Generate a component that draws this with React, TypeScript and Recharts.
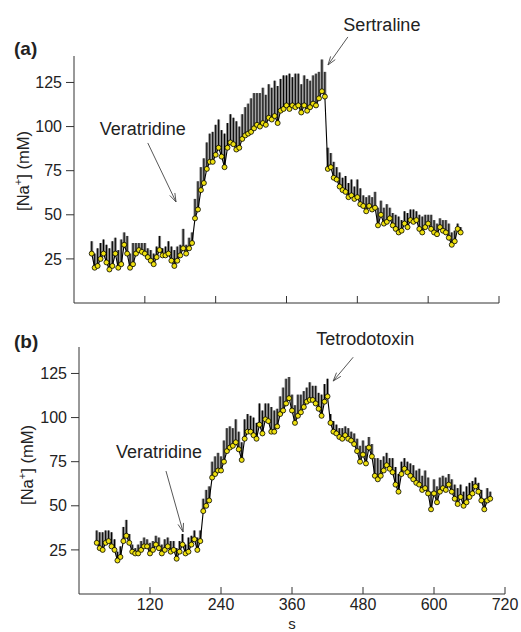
import React from 'react';
import { ComposedChart, Line, XAxis, YAxis, ErrorBar, ReferenceLine } from 'recharts';

const FONT = '"Liberation Sans", Arial, Helvetica, sans-serif';

// ---------- Panel (a) ----------
const timesA = [
  30, 35, 40, 45, 50, 55, 60, 65, 70, 75,
  80, 85, 90, 95, 100, 105, 110, 115, 120, 125,
  130, 135, 140, 145, 150, 155, 160, 165, 170, 175,
  180, 185, 190, 195, 200, 205, 210, 215, 220, 225,
  230, 235, 240, 245, 250, 255, 260, 265, 270, 275,
  280, 285, 290, 295, 300, 305, 310, 315, 320, 325,
  330, 335, 340, 345, 350, 355, 360, 365, 370, 375,
  380, 385, 390, 395, 400, 405, 410, 415, 420, 425,
  430, 435, 440, 445, 450, 455, 460, 465, 470, 475,
  480, 485, 490, 495, 500, 505, 510, 515, 520, 525,
  530, 535, 540, 545, 550, 555, 560, 565, 570, 575,
  580, 585, 590, 595, 600, 605, 610, 615, 620, 625,
  630, 635, 640, 645, 650, 655,
];
const meanA = [
  28, 20, 21, 25, 28, 23, 19, 21, 28, 20,
  22, 33, 28, 20, 22, 28, 30, 29, 28, 26,
  24, 22, 26, 30, 27, 27, 28, 24, 21, 24,
  27, 31, 28, 31, 34, 48, 53, 64, 68, 76,
  80, 80, 84, 88, 83, 77, 88, 91, 90, 87,
  88, 93, 95, 96, 97, 99, 101, 100, 102, 101,
  105, 104, 106, 102, 109, 110, 112, 110, 112, 111,
  112, 108, 112, 109, 111, 113, 112, 116, 120, 117,
  76, 77, 71, 70, 66, 64, 63, 60, 61, 59,
  60, 56, 55, 52, 55, 53, 54, 44, 50, 45,
  46, 48, 44, 42, 40, 41, 45, 43, 47, 46,
  47, 42, 40, 43, 45, 42, 40, 39, 43, 41,
  40, 37, 33, 35, 42, 40,
];
const errA = [
  7, 8, 10, 9, 8, 10, 12, 14, 9, 10,
  14, 7, 10, 8, 12, 6, 4, 5, 6, 5,
  6, 6, 6, 8, 4, 5, 7, 8, 9, 8,
  6, 11, 5, 6, 6, 11, 16, 13, 14, 15,
  16, 17, 17, 16, 15, 19, 14, 16, 15, 16,
  12, 14, 16, 17, 19, 20, 18, 19, 20, 17,
  19, 18, 20, 21, 18, 19, 17, 20, 16, 19,
  18, 16, 17, 18, 15, 16, 18, 15, 18, 14,
  12, 8, 9, 7, 8, 7, 9, 8, 9, 7,
  10, 9, 6, 8, 6, 7, 9, 10, 8, 9,
  10, 6, 7, 8, 9, 6, 7, 8, 6, 7,
  5, 8, 9, 7, 5, 8, 7, 6, 5, 6,
  7, 8, 7, 6, 3, 3,
];

// ---------- Panel (b) ----------
const timesB = [
  30, 35, 40, 45, 50, 55, 60, 65, 70, 75,
  80, 85, 90, 95, 100, 105, 110, 115, 120, 125,
  130, 135, 140, 145, 150, 155, 160, 165, 170, 175,
  180, 185, 190, 195, 200, 205, 210, 215, 220, 225,
  230, 235, 240, 245, 250, 255, 260, 265, 270, 275,
  280, 285, 290, 295, 300, 305, 310, 315, 320, 325,
  330, 335, 340, 345, 350, 355, 360, 365, 370, 375,
  380, 385, 390, 395, 400, 405, 410, 415, 420, 425,
  430, 435, 440, 445, 450, 455, 460, 465, 470, 475,
  480, 485, 490, 495, 500, 505, 510, 515, 520, 525,
  530, 535, 540, 545, 550, 555, 560, 565, 570, 575,
  580, 585, 590, 595, 600, 605, 610, 615, 620, 625,
  630, 635, 640, 645, 650, 655, 660, 665, 670, 675,
  680, 685, 690, 695,
];
const meanB = [
  29, 26, 25, 29, 30, 27, 25, 19, 21, 30,
  33, 29, 24, 23, 23, 25, 27, 27, 23, 25,
  28, 26, 23, 25, 27, 24, 25, 20, 24, 28,
  23, 24, 28, 31, 25, 30, 47, 50, 53, 66,
  68, 70, 70, 75, 81, 83, 84, 86, 82, 76,
  88, 92, 92, 90, 88, 96, 91, 99, 98, 92,
  92, 95, 102, 104, 108, 111, 104, 97, 101, 103,
  106, 109, 110, 110, 108, 105, 101, 109, 112, 97,
  92, 91, 89, 88, 90, 88, 87, 85, 81, 75,
  79, 74, 83, 78, 67, 65, 67, 70, 73, 71,
  69, 62, 58, 68, 71, 69, 67, 65, 63, 62,
  59, 60, 57, 48, 57, 52, 58, 60, 59, 62,
  58, 54, 51, 55, 50, 52, 55, 57, 61, 58,
  53, 48, 53, 54,
];
const errB = [
  7, 9, 10, 7, 6, 8, 6, 5, 6, 8,
  9, 5, 4, 3, 5, 5, 5, 4, 6, 5,
  5, 6, 5, 6, 5, 6, 5, 6, 6, 6,
  5, 8, 5, 5, 7, 6, 7, 9, 8, 9,
  10, 10, 8, 12, 13, 12, 10, 13, 10, 10,
  11, 10, 9, 10, 9, 12, 13, 9, 10, 14,
  12, 10, 10, 13, 14, 12, 9, 10, 12, 10,
  9, 8, 10, 8, 10, 9, 12, 10, 10, 5,
  6, 5, 5, 6, 5, 6, 5, 6, 7, 9,
  8, 10, 6, 7, 10, 12, 9, 8, 7, 6,
  8, 10, 10, 7, 6, 6, 7, 8, 7, 9,
  8, 10, 9, 10, 8, 9, 8, 7, 7, 6,
  7, 8, 9, 7, 8, 9, 8, 7, 5, 5,
  6, 6, 7, 4,
];

const xTicks = [120, 240, 360, 480, 600, 720];
const yTicks = [25, 50, 75, 100, 125];

// annotation arrows (data coordinates: [start, end])
const arrowVeraA = [{ x: 125, y: 90.7 }, { x: 172.8, y: 57.3 }];
const arrowSert = [{ x: 464, y: 150.8 }, { x: 430.3, y: 134.9 }];
const arrowVeraB = [{ x: 147, y: 69.7 }, { x: 175.9, y: 35.2 }];
const arrowTTX = [{ x: 463.4, y: 134.2 }, { x: 429.6, y: 120.7 }];

const dataA = timesA.map((t, i) => ({ t, v: meanA[i], e: [0, errA[i]] }));
const dataB = timesB.map((t, i) => ({ t, v: meanB[i], e: [0, errB[i]] }));

function makeArrow(label: string, dx: number, dy: number) {
  return (p: any) => {
    const { x1, y1, x2, y2 } = p;
    const a = Math.atan2(y1 - y2, x1 - x2);
    const L = 9;
    const s = 0.32;
    const h1x = x2 + L * Math.cos(a + s);
    const h1y = y2 + L * Math.sin(a + s);
    const h2x = x2 + L * Math.cos(a - s);
    const h2y = y2 + L * Math.sin(a - s);
    return (
      <g>
        <line x1={x1} y1={y1} x2={x2} y2={y2} stroke="#444" strokeWidth={0.9} />
        <polyline
          points={`${h1x},${h1y} ${x2},${y2} ${h2x},${h2y}`}
          fill="none"
          stroke="#444"
          strokeWidth={0.9}
        />
        <text x={x1 + dx} y={y1 + dy} textAnchor="middle" fontSize={18} fontFamily={FONT} fill="#222">
          {label}
        </text>
      </g>
    );
  };
}

const tickStyle = { fontSize: 16, fontFamily: FONT, fill: '#222' };
const dotStyle = { r: 2.5, fill: '#eee010', stroke: '#000', strokeWidth: 0.8 };

export default function App() {
  return (
    <div style={{ position: 'absolute', left: 0, top: 0, width: 521, height: 632, background: '#fff' }}>
      <div style={{ position: 'absolute', left: 0, top: 0 }}>
        <ComposedChart width={521} height={316} data={dataA} margin={{ top: 56, right: 22, bottom: 0, left: 14 }}>
          <XAxis
            dataKey="t"
            type="number"
            domain={[0, 720]}
            ticks={xTicks}
            tickFormatter={() => ''}
            height={13}
            tickSize={-7}
            stroke="#333"
            allowDataOverflow
          />
          <YAxis
            type="number"
            domain={[0, 140]}
            ticks={yTicks}
            width={60}
            tickSize={8}
            tickMargin={4}
            tick={tickStyle}
            stroke="#333"
          />
          <Line
            dataKey="v"
            stroke="#000"
            strokeWidth={1.1}
            dot={dotStyle}
            activeDot={false}
            isAnimationActive={false}
          >
            <ErrorBar dataKey="e" width={0} stroke="#8a8a8a" strokeWidth={3} direction="y" isAnimationActive={false} />
            <ErrorBar dataKey="e" width={0} stroke="#000" strokeWidth={1} direction="y" isAnimationActive={false} />
          </Line>
          <ReferenceLine segment={arrowVeraA} ifOverflow="visible" shape={makeArrow('Veratridine', -5, -8)} />
          <ReferenceLine segment={arrowSert} ifOverflow="visible" shape={makeArrow('Sertraline', 34, -6)} />
        </ComposedChart>
      </div>
      <div style={{ position: 'absolute', left: 0, top: 316 }}>
        <ComposedChart width={521} height={316} data={dataB} margin={{ top: 31, right: 16, bottom: 0, left: 19 }}>
          <XAxis
            dataKey="t"
            type="number"
            domain={[0, 720]}
            ticks={xTicks}
            height={38}
            tickSize={-7}
            tickMargin={12}
            tick={tickStyle}
            stroke="#333"
            allowDataOverflow
            label={{ value: 's', position: 'insideBottom', offset: 3.5, fontSize: 15, fontFamily: FONT, fill: '#222' }}
          />
          <YAxis
            type="number"
            domain={[0, 140]}
            ticks={yTicks}
            width={60}
            tickSize={8}
            tickMargin={4}
            tick={tickStyle}
            stroke="#333"
          />
          <Line
            dataKey="v"
            stroke="#000"
            strokeWidth={1.1}
            dot={dotStyle}
            activeDot={false}
            isAnimationActive={false}
          >
            <ErrorBar dataKey="e" width={0} stroke="#8a8a8a" strokeWidth={3} direction="y" isAnimationActive={false} />
            <ErrorBar dataKey="e" width={0} stroke="#000" strokeWidth={1} direction="y" isAnimationActive={false} />
          </Line>
          <ReferenceLine segment={arrowVeraB} ifOverflow="visible" shape={makeArrow('Veratridine', -7, -13)} />
          <ReferenceLine segment={arrowTTX} ifOverflow="visible" shape={makeArrow('Tetrodotoxin', 12, -12)} />
        </ComposedChart>
      </div>
      <svg
        width={521}
        height={632}
        style={{ position: 'absolute', left: 0, top: 0, pointerEvents: 'none' }}
      >
        <text x={14} y={55} fontSize={19} fontWeight="bold" fontFamily={FONT} fill="#222">(a)</text>
        <text x={14} y={348} fontSize={19} fontWeight="bold" fontFamily={FONT} fill="#222">(b)</text>
        <text transform="translate(29,171) rotate(-90)" textAnchor="middle" fontSize={16.5} fontFamily={FONT} fill="#222">
          [Na<tspan fontSize={11} dy={-7}>+</tspan><tspan dy={7}>] (mM)</tspan>
        </text>
        <text transform="translate(33,465) rotate(-90)" textAnchor="middle" fontSize={16.5} fontFamily={FONT} fill="#222">
          [Na<tspan fontSize={11} dy={-7}>+</tspan><tspan dy={7}>] (mM)</tspan>
        </text>
      </svg>
    </div>
  );
}
